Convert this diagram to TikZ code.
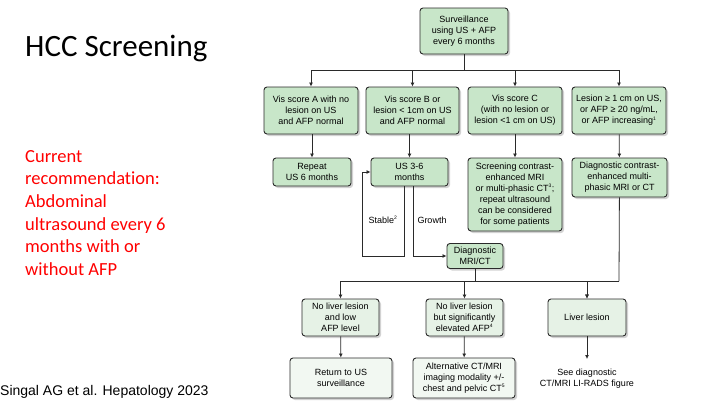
\documentclass[tikz,border=0pt]{standalone}
\usepackage{fontspec}
\setmainfont{Liberation Sans}
\newfontfamily\calibri[Ligatures=NoCommon]{Carlito}
\usetikzlibrary{shadows,arrows.meta}
\definecolor{boxgreen}{HTML}{C8E6C9}
\definecolor{boxpale}{HTML}{E6F2E6}
\definecolor{boxwhite}{HTML}{F2F8F2}
\definecolor{edge}{HTML}{2A2A2A}
\newcommand{\fsup}[1]{\textsuperscript{\fontsize{5}{5}\selectfont #1}}
\tikzset{
  box/.style={draw=edge, line width=0.9pt, rounded corners=3pt, fill=boxgreen, align=center,
    font=\fontsize{9}{11}\selectfont, inner sep=1pt,
    drop shadow={opacity=0.35, shadow xshift=2pt, shadow yshift=-2pt}},
  pale/.style={box, fill=boxpale},
  white/.style={box, fill=boxwhite},
  conn/.style={draw=edge, line width=0.8pt},
  arr/.style={conn, -{Latex[length=4pt,width=4pt]}},
  lbl/.style={font=\fontsize{9}{11}\selectfont, align=center, inner sep=0pt}
}
\begin{document}
\begin{tikzpicture}[x=1pt,y=-1pt]
\useasboundingbox[fill=white] (0,0) rectangle (720,416);
% left texts
\node[anchor=west, inner sep=0pt, font=\calibri\fontsize{31}{36}\selectfont] (title) at (25,48) {HCC Screening};
\node[anchor=north west, inner sep=0pt, align=left, text=red, font=\calibri\fontsize{18.5}{22.6}\selectfont] (rec) at (25,150) {Current\\recommendation:\\Abdominal\\ultrasound every 6\\months with or\\without AFP};
\node[anchor=west, inner sep=0pt, font=\fontsize{14}{16}\selectfont] (cite) at (0,392) {Singal AG et al. Hepatology 2023};
% flowchart nodes
\node[box, minimum width=88pt, minimum height=46pt] (surv) at (464,31) {Surveillance\\using US + AFP\\every 6 months};
\node[box, minimum width=94pt, minimum height=47pt] (a) at (311,110.5) {Vis score A with no\\lesion on US\\and AFP normal};
\node[box, minimum width=93pt, minimum height=47pt] (b) at (412.5,110.5) {Vis score B or\\lesion < 1cm on US\\and AFP normal};
\node[box, minimum width=94pt, minimum height=47pt] (c) at (515,110.5) {Vis score C\\(with no lesion or\\lesion <1 cm on US)};
\node[box, minimum width=94pt, minimum height=47pt] (d) at (619,110.5) {Lesion ≥ 1 cm on US,\\or AFP ≥ 20 ng/mL,\\or AFP increasing\fsup{1}};
\node[box, minimum width=78pt, minimum height=28pt] (rep) at (312,172) {Repeat\\US 6 months};
\node[box, minimum width=77pt, minimum height=28pt] (us) at (409.5,172) {US 3-6\\months};
\node[box, minimum width=94pt, minimum height=73pt] (scr) at (515,194.5) {Screening contrast-\\enhanced MRI\\or multi-phasic CT\fsup{3};\\repeat ultrasound\\can be considered\\for some patients};
\node[box, minimum width=95pt, minimum height=39pt] (dcon) at (619.5,177.5) {Diagnostic contrast-\\enhanced multi-\\phasic MRI or CT};
\node[box, minimum width=56pt, minimum height=25pt] (dmri) at (475,256) {Diagnostic\\MRI/CT};
\node[pale, minimum width=77pt, minimum height=37pt] (n1) at (340.5,317.5) {No liver lesion\\and low\\AFP level};
\node[pale, minimum width=77pt, minimum height=37pt] (n2) at (464.5,317.5) {No liver lesion\\but significantly\\elevated AFP\fsup{4}};
\node[pale, minimum width=78pt, minimum height=37pt] (n3) at (587,317.5) {Liver lesion};
\node[white, minimum width=102pt, minimum height=40pt] (ret) at (341,378) {Return to US\\surveillance};
\node[white, minimum width=102pt, minimum height=40pt] (alt) at (464,378) {Alternative CT/MRI\\imaging modality +/-\\chest and pelvic CT\fsup{5}};
\node[lbl] (see) at (587,379) {See diagnostic\\CT/MRI LI-RADS figure};
\node[lbl, anchor=center] (stab) at (383,220) {Stable\fsup{2}};
\node[lbl, anchor=center] (grow) at (432,220) {Growth};
% coordinates
\coordinate (h1) at (464,70);
\coordinate (s1) at (404,256);
\coordinate (s2) at (362,256);
\coordinate (g1) at (413,256);
\coordinate (h2) at (475,281);
\coordinate (h2r) at (619,281);
\coordinate (seetop) at (587,359);
% connectors
\draw[conn] (surv) -- (h1);
\draw[arr] (h1) -| (a);
\draw[arr] (h1) -| (b);
\draw[arr] (h1) -| (c);
\draw[arr] (h1) -| (d);
\draw[arr] (rep.north |- a.south) -- (rep.north);
\draw[arr] (us.north |- b.south) -- (us.north);
\draw[arr] (c) -- (scr);
\draw[arr] (d) -- (dcon);
\draw[arr] (us.south -| s1) -- (s1) -- (s2) |- (us.west);
\draw[arr] (us.south -| g1) -- (g1) -- (dmri.west);
\draw[conn] (dmri) -- (h2);
\draw[conn] (dcon) -- (h2r);
\draw[arr] (h2) -| (n1);
\draw[arr] (h2) -| (n2);
\draw[arr] (h2) -| (n3);
\draw[arr] (h2r) -| (n3);
\draw[arr] (n1) -- (ret);
\draw[arr] (n2) -- (alt);
\draw[arr] (n3) -- (seetop);
\end{tikzpicture}
\end{document}
